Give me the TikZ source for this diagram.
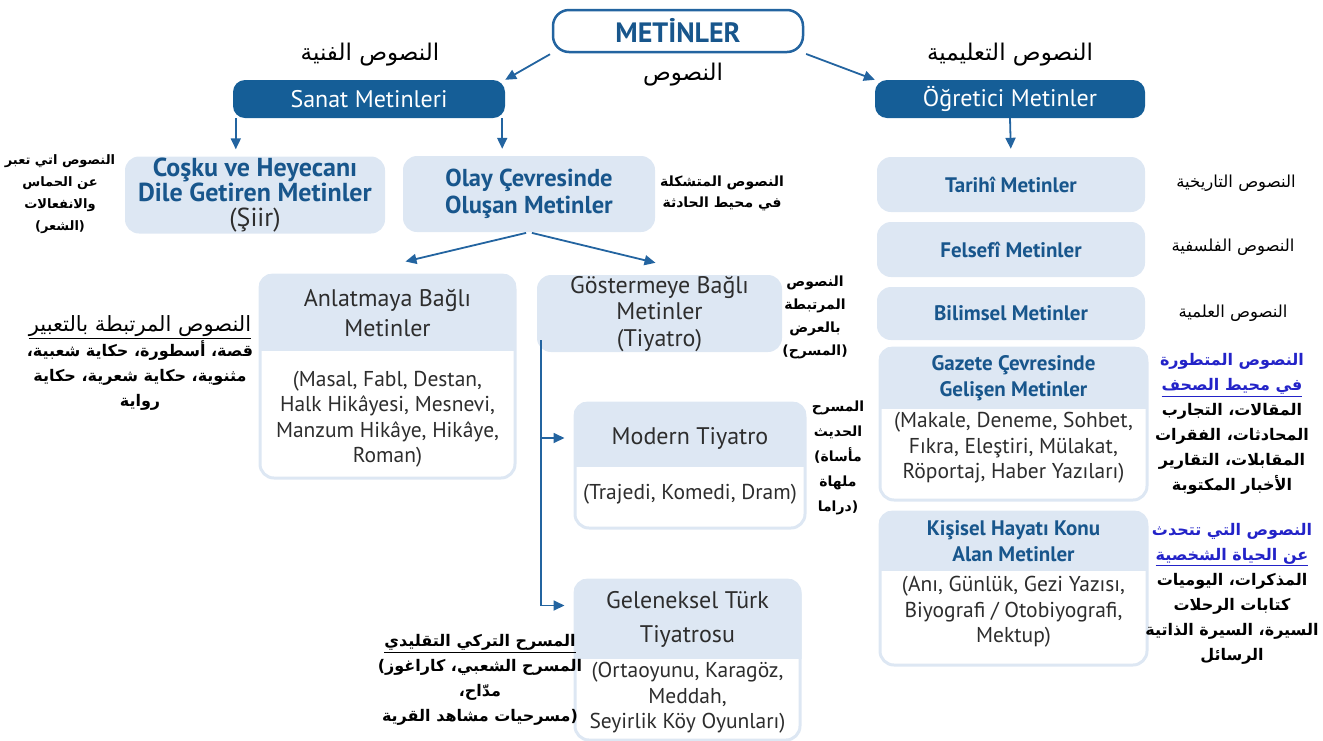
\documentclass[tikz,border=0pt]{standalone}
\usepackage{fontspec}
\setmainfont{PT Sans}
\newfontfamily\arabicfont[Script=Arabic]{DejaVu Sans}
\newfontfamily\dvs{DejaVu Sans}
\usetikzlibrary{arrows.meta}
\TeXXeTstate=1
\newcommand{\ar}[1]{\beginR #1\endR}
\newcommand{\lp}{{\dvs(}}
\newcommand{\rp}{{\dvs)}}

\definecolor{navy}{RGB}{21,94,151}
\definecolor{ttlblue}{RGB}{24,86,140}
\definecolor{lite}{RGB}{221,231,243}
\definecolor{txtgray}{RGB}{45,45,45}
\definecolor{arblue}{RGB}{35,35,200}
\definecolor{arrblue}{RGB}{35,100,160}

\tikzset{
  darkbox/.style={fill=navy, text=white, rounded corners=12pt, minimum height=38pt, font=\fontsize{24}{26}\selectfont},
  litebox/.style={fill=lite, rounded corners=14pt, inner sep=0pt},
  panel/.style={draw=lite, line width=3pt, fill=white, rounded corners=14pt, inner sep=0pt},
  ttl/.style={text=ttlblue, font=\bfseries\fontsize{21}{26}\selectfont, align=center},
  hdr/.style={text=txtgray, font=\fontsize{24}{30}\selectfont, align=center},
  body/.style={text=txtgray, font=\fontsize{21.5}{25.5}\selectfont, align=center},
  arhead/.style={font=\arabicfont\fontsize{23}{26}\selectfont, align=center},
  arnote/.style={font=\arabicfont\bfseries\fontsize{13}{22}\selectfont, align=center},
  arlist/.style={font=\arabicfont\bfseries\fontsize{16}{25}\selectfont, align=center},
  arr/.style={draw=arrblue, line width=1.8pt, -{Triangle[length=11pt,width=10pt]}},
}

\begin{document}
\begin{tikzpicture}[x=1pt,y=-1pt]
\useasboundingbox (0,0) rectangle (1323,740);

% top level
\node[draw=arrblue, line width=2.5pt, rounded corners=16pt, fill=white, minimum width=250pt, minimum height=42pt, text=ttlblue, font=\bfseries\fontsize{28}{30}\selectfont] (met) at (678,31) {METİNLER};
\node[arhead] (metar) at (683,75) {\ar{النصوص}};
\node[arhead] (sanatar) at (370,55) {\ar{النصوص الفنية}};
\node[arhead] (ograr) at (1010,55) {\ar{النصوص التعليمية}};

\node[darkbox, minimum width=272pt] (sanat) at (369,99) {Sanat Metinleri};
\node[darkbox, minimum width=270pt] (ogr) at (1010,99) {Öğretici Metinler};

% boxes
\node[litebox, ttl, minimum width=260pt, minimum height=77pt, font=\bfseries\fontsize{26}{25}\selectfont] (cosku) at (255,195) {Coşku ve Heyecanı\\Dile Getiren Metinler\\{\mdseries\color{txtgray}(Şiir)}};
\node[litebox, ttl, minimum width=252pt, minimum height=76pt, font=\bfseries\fontsize{24.5}{27}\selectfont] (olay) at (529,194) {Olay Çevresinde\\Oluşan Metinler};

\node[panel, minimum width=255pt, minimum height=203pt] (anlat) at (387.5,376.5) {};
\node[litebox, hdr, minimum width=245pt, minimum height=77pt, font=\fontsize{24}{26.5}\selectfont] (goster) at (659.5,313.5) {Göstermeye Bağlı\\Metinler\\(Tiyatro)};
\node[panel, minimum width=230pt, minimum height=125pt] (modern) at (690,465.5) {};
\node[panel, minimum width=225pt, minimum height=160pt] (gelen) at (687.5,660) {};

\node[litebox, ttl, minimum width=268pt, minimum height=55pt] (tarih) at (1011,184.5) {Tarihî Metinler};
\node[litebox, ttl, minimum width=268pt, minimum height=55pt] (felsefe) at (1011,249.5) {Felsefî Metinler};
\node[litebox, ttl, minimum width=268pt, minimum height=53pt] (bilim) at (1011,313.5) {Bilimsel Metinler};
\node[panel, minimum width=267pt, minimum height=152pt] (gazete) at (1013.5,424) {};
\node[panel, minimum width=267pt, minimum height=153pt] (kisisel) at (1013.5,588.5) {};

% header parts of the panels
\foreach \p/\h in {anlat/77,modern/65,gelen/80,gazete/62,kisisel/60}{
  \begin{scope}
    \clip[rounded corners=14pt] (\p.north west) rectangle (\p.south east);
    \fill[lite] (\p.north west) rectangle ([yshift=-\h*1pt]\p.north east);
  \end{scope}
}

\node[hdr] (anlath) at (387.5,313) {Anlatmaya Bağlı\\Metinler};
\node[body] (anlatb) at (387.5,419) {(Masal, Fabl, Destan,\\Halk Hikâyesi, Mesnevi,\\Manzum Hikâye, Hikâye,\\Roman)};
\node[hdr] (modernh) at (690,438) {Modern Tiyatro};
\node[body] (modernb) at (690,494) {(Trajedi, Komedi, Dram)};
\node[hdr, font=\fontsize{24}{34}\selectfont] (gelenh) at (687.5,619) {Geleneksel Türk\\Tiyatrosu};
\node[body] (gelenb) at (687.5,698) {(Ortaoyunu, Karagöz,\\Meddah,\\Seyirlik Köy Oyunları)};
\node[ttl] (gazeteh) at (1013.5,378) {Gazete Çevresinde\\Gelişen Metinler};
\node[body] (gazeteb) at (1013.5,448) {(Makale, Deneme, Sohbet,\\Fıkra, Eleştiri, Mülakat,\\Röportaj, Haber Yazıları)};
\node[ttl] (kisiselh) at (1013.5,541.5) {Kişisel Hayatı Konu\\Alan Metinler};
\node[body] (kisiselb) at (1013.5,612) {(Anı, Günlük, Gezi Yazısı,\\Biyografi / Otobiyografi,\\Mektup)};

% arabic notes
\node[arnote] (coskuar) at (60,194) {\ar{النصوص اتي تعبر}\\\ar{عن الحماس}\\\ar{والانفعالات}\\\lp\ar{الشعر}\rp};
\node[arnote, font=\arabicfont\bfseries\fontsize{14}{21}\selectfont] (olayar) at (722,193) {\ar{النصوص المتشكلة}\\\ar{في محيط الحادثة}};
\node[arlist, font=\arabicfont\fontsize{21}{24}\selectfont] (anlatar) at (140,327) {\underline{\ar{النصوص المرتبطة بالتعبير}}};
\node[arlist] (anlatlist) at (140,375) {\ar{قصة، أسطورة، حكاية شعبية،}\\\ar{مثنوية، حكاية شعرية، حكاية}\\\ar{رواية}};
\node[arnote, font=\arabicfont\bfseries\fontsize{14}{23}\selectfont] (gosterar) at (815,317) {\ar{النصوص}\\\ar{المرتبطة}\\\ar{بالعرض}\\\lp\ar{المسرح}\rp};
\node[arnote, font=\arabicfont\bfseries\fontsize{14}{25}\selectfont] (modernar) at (838,458) {\ar{المسرح}\\\ar{الحديث}\\\lp\ar{مأساة}\\\ar{ملهاة}\\\ar{دراما}\rp};
\node[arlist] (gelenar) at (480,680) {\underline{\ar{المسرح التركي التقليدي}}\\\lp\ar{المسرح الشعبي، كاراغوز}\\\ar{مدّاح،}\\\ar{مسرحيات مشاهد القرية}\rp};
\node[arhead, font=\arabicfont\fontsize{16.5}{20}\selectfont] (tarihar) at (1236,183) {\ar{النصوص التاريخية}};
\node[arhead, font=\arabicfont\fontsize{16.5}{20}\selectfont] (felsefear) at (1233,247) {\ar{النصوص الفلسفية}};
\node[arhead, font=\arabicfont\fontsize{16.5}{20}\selectfont] (bilimar) at (1233,313) {\ar{النصوص العلمية}};
\node[arlist] (gazetear) at (1232,424) {{\color{arblue}\ar{النصوص المتطورة}}\\{\color{arblue}\underline{\ar{في محيط الصحف}}}\\\ar{المقالات، التجارب}\\\ar{المحادثات، الفقرات}\\\ar{المقابلات، التقارير}\\\ar{الأخبار المكتوبة}};
\node[arlist] (kisiselar) at (1232,593.5) {{\color{arblue}\ar{النصوص التي تتحدث}}\\{\color{arblue}\underline{\ar{عن الحياة الشخصية}}}\\\ar{المذكرات، اليوميات}\\\ar{كتابات الرحلات}\\\ar{السيرة، السيرة الذاتية}\\\ar{الرسائل}};

% connectors
\draw[arr, shorten <=2pt] (met.south west) -- (sanat.north east);
\draw[arr, shorten <=2pt] (met.south east) -- (ogr.north west);
\coordinate (s1) at ([xshift=3pt]sanat.south west);
\coordinate (s2) at ([xshift=-3pt]sanat.south east);
\draw[arr] (s1) -- ([yshift=7pt]s1 |- cosku.north);
\draw[arr] (s2) -- ([yshift=7pt]s2 |- olay.north);
\draw[arr, shorten >=8pt] (ogr.south) -- (tarih.north);
\draw[arr, shorten <=3pt] (olay.south) -- ([xshift=18pt,yshift=12pt]anlat.north);
\draw[arr, shorten <=3pt] (olay.south) -- ([xshift=-4pt,yshift=12pt]goster.north);
\coordinate (gtop) at ([xshift=4pt,yshift=12pt]goster.south west);
\draw[arr, shorten >=9pt] (gtop) |- ([yshift=-27pt]gelen.north west);
\draw[arr, shorten >=9pt] (gtop |- modernh) -- (modern.west |- modernh);

\end{tikzpicture}
\end{document}
